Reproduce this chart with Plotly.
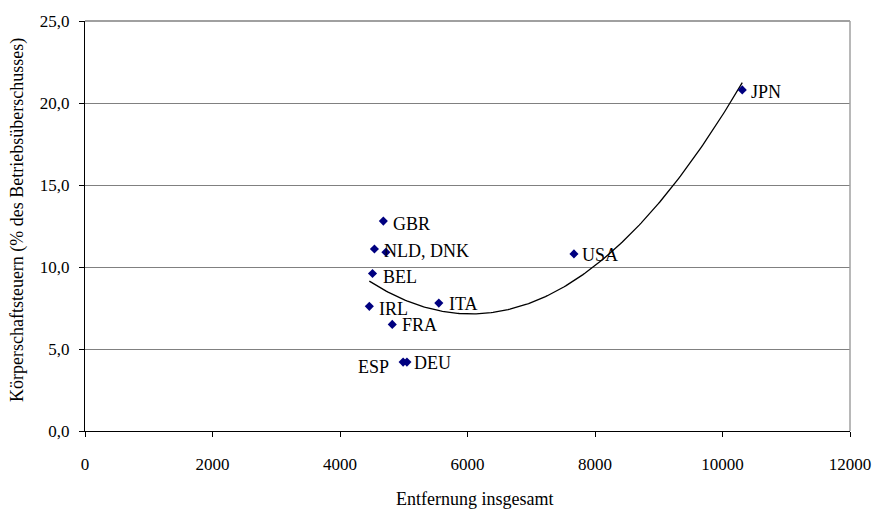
import numpy as np
import plotly.graph_objects as go

# ---- data ----
countries = ["GBR", "NLD", "DNK", "BEL", "IRL", "ITA", "FRA", "ESP", "DEU", "USA", "JPN"]
entfernung = [4680, 4540, 4720, 4510, 4460, 5550, 4820, 4990, 5050, 7670, 10310]
steuern = [12.8, 11.1, 10.9, 9.6, 7.6, 7.8, 6.5, 4.2, 4.2, 10.8, 20.8]
point_labels = ["GBR", "NLD, DNK", "", "BEL", "IRL", "ITA", "FRA", "ESP", "DEU", "USA", "JPN"]
x_ticks = [0, 2000, 4000, 6000, 8000, 10000, 12000]
y_ticks = [0, 5, 10, 15, 20, 25]
x_title = "Entfernung insgesamt"
y_title = "Körperschaftsteuern (% des Betriebsüberschusses)"

# ---- label placement (style only) ----
label_offsets = {
    "GBR": (8, -3, "left"), "NLD": (8, -2, "left"), "BEL": (8, -3, "left"),
    "IRL": (8, -3, "left"), "ITA": (8, -1, "left"), "FRA": (8, -1, "left"),
    "ESP": (-12, -5, "right"), "DEU": (5, -1, "left"), "USA": (6, -1, "left"),
    "JPN": (7, -2, "left"),
}

FONT = "Liberation Serif, Times New Roman, serif"

# polynomial (order 2) trendline computed from the data
coef = np.polyfit(entfernung, steuern, 2)
tx = np.linspace(min(entfernung), max(entfernung), 200)
ty = np.polyval(coef, tx)

fig = go.Figure()
fig.add_trace(go.Scatter(x=tx, y=ty, mode="lines",
                         line=dict(color="black", width=1.3),
                         hoverinfo="skip", showlegend=False))
fig.add_trace(go.Scatter(x=entfernung, y=steuern, mode="markers",
                         marker=dict(symbol="diamond", size=7, color="#000080"),
                         text=countries, showlegend=False))

annotations = []
for c, xv, yv, lab in zip(countries, entfernung, steuern, point_labels):
    if not lab:
        continue
    dx, dy, anchor = label_offsets[c]
    annotations.append(dict(x=xv, y=yv, xref="x", yref="y", text=lab,
                            showarrow=False, xanchor=anchor, yanchor="middle",
                            xshift=dx, yshift=dy,
                            font=dict(family=FONT, size=18, color="black")))

annotations.append(dict(text=x_title, xref="paper", yref="paper",
                        x=(480 - 85) / 776, y=-(500 - 431) / 416,
                        xanchor="center", yanchor="middle", showarrow=False,
                        font=dict(family=FONT, size=18, color="black")))
annotations.append(dict(text=y_title, xref="paper", yref="paper",
                        x=(16 - 85) / 776, y=(431 - 217) / 416, textangle=-90,
                        xanchor="center", yanchor="middle", showarrow=False,
                        font=dict(family=FONT, size=18, color="black")))

fig.update_layout(
    width=883, height=513,
    margin=dict(l=85, r=22, t=15, b=82),
    paper_bgcolor="white", plot_bgcolor="white",
    separators=",.",
    font=dict(family=FONT, size=17, color="black"),
    annotations=annotations,
    shapes=[
        dict(type="line", xref="paper", yref="paper", x0=0, x1=1, y0=1, y1=1,
             line=dict(color="#808080", width=1.5)),
        dict(type="line", xref="paper", yref="paper", x0=1, x1=1, y0=0, y1=1,
             line=dict(color="#a0a0a0", width=1.5)),
    ],
    xaxis=dict(range=[0, 12000], tickvals=x_ticks, tickformat="d",
               showgrid=False, zeroline=False, showline=True,
               linecolor="black", linewidth=1, ticks="outside", ticklen=5,
               tickcolor="black", ticklabelstandoff=13,
               tickfont=dict(family=FONT, size=17)),
    yaxis=dict(range=[0, 25], tickvals=y_ticks, tickformat=".1f",
               showgrid=True, gridcolor="#808080", gridwidth=1,
               zeroline=False, showline=True, linecolor="black", linewidth=1,
               ticks="outside", ticklen=5, tickcolor="black",
               ticklabelstandoff=6, tickfont=dict(family=FONT, size=17)),
)

fig.write_html("out.html",
               config={"displayModeBar": False},
               post_script="document.body.style.margin='0px';"
                           "document.body.style.padding='0px';")
